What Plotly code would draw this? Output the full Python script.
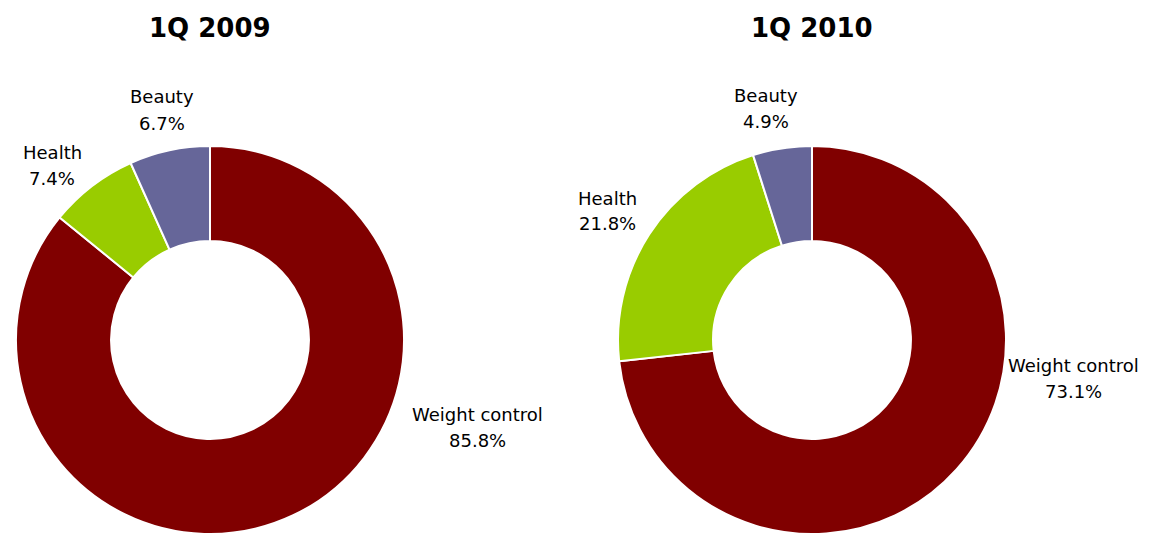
import plotly.graph_objects as go

# ---- data ----
categories = ["Weight control", "Health", "Beauty"]
values_1q2009 = [85.8, 7.4, 6.7]
values_1q2010 = [73.1, 21.8, 4.9]
titles = ["1Q 2009", "1Q 2010"]
colors = ["#800000", "#99CC00", "#666699"]

OFF = 8  # page body margin offset
W, H = 1149 - OFF, 534 - OFF
FONT = "DejaVu Sans"

def px_x(x):
    return (x - OFF) / W

def px_y(y):
    return 1 - (y - OFF) / H

fig = go.Figure()

# pie geometry (page pixels): centers and radius
pies = [
    dict(values=values_1q2009, cx=210, cy=340, r=194),
    dict(values=values_1q2010, cx=812, cy=340, r=194),
]
for p in pies:
    fig.add_trace(go.Pie(
        labels=categories,
        values=p["values"],
        hole=0.51,
        sort=False,
        direction="clockwise",
        rotation=0,
        marker=dict(colors=colors, line=dict(color="white", width=2)),
        textinfo="none",
        hoverinfo="label+percent",
        showlegend=False,
        domain=dict(
            x=[max(0, px_x(p["cx"] - p["r"])), min(1, px_x(p["cx"] + p["r"]))],
            y=[max(0, px_y(p["cy"] + p["r"])), min(1, px_y(p["cy"] - p["r"]))],
        ),
    ))

annotations = []
# titles
for t, cx in zip(titles, [210, 812]):
    annotations.append(dict(
        text=f"<b>{t}</b>", x=px_x(cx), y=px_y(28), xref="paper", yref="paper",
        xanchor="center", yanchor="middle", showarrow=False,
        font=dict(family=FONT, size=26, color="black"),
    ))

# slice label positions (page pixels, block centers), per chart, in category order
label_pos = [
    [(477, 427), (52, 165), (162, 110)],
    [(1073, 378), (607, 211), (766, 108)],
]
for vals, positions in zip([values_1q2009, values_1q2010], label_pos):
    for cat, v, (lx, ly) in zip(categories, vals, positions):
        for txt, dy in ((cat, -13), (f"{v:.1f}%", 13)):
            annotations.append(dict(
                text=txt, x=px_x(lx), y=px_y(ly + dy),
                xref="paper", yref="paper", xanchor="center", yanchor="middle",
                showarrow=False, align="center",
                font=dict(family=FONT, size=18, color="black"),
            ))

fig.update_layout(
    width=W, height=H,
    margin=dict(l=0, r=0, t=0, b=0),
    paper_bgcolor="white", plot_bgcolor="white",
    annotations=annotations,
    font=dict(family=FONT),
)

fig.write_html("out.html")
